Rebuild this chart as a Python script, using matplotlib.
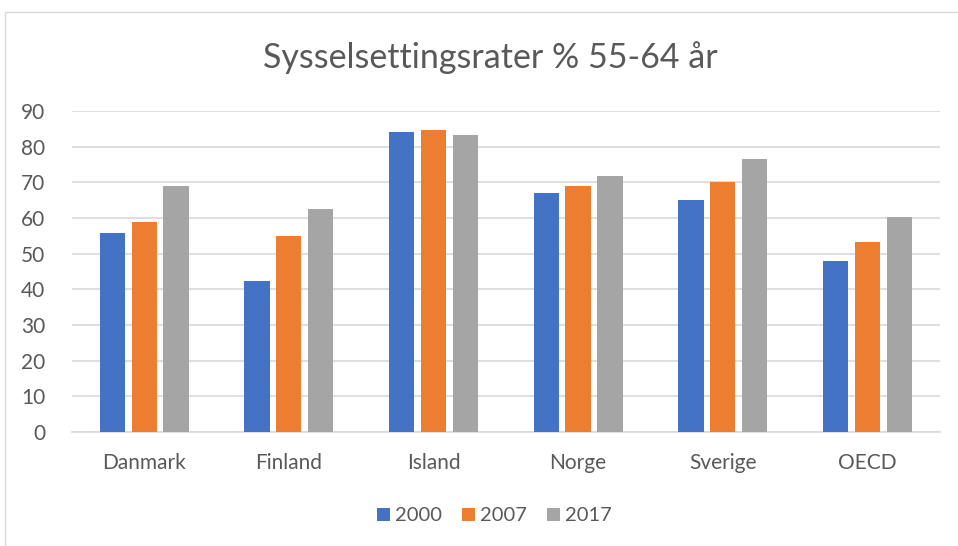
import matplotlib.pyplot as plt
import numpy as np
from matplotlib.patches import Rectangle

# === Data ===
countries = ['Danmark', 'Finland', 'Island', 'Norge', 'Sverige', 'OECD']
years = ['2000', '2007', '2017']
v2000 = [55.7, 42.3, 84.0, 66.9, 65.0, 47.8]
v2007 = [58.8, 55.0, 84.7, 68.8, 70.0, 53.3]
v2017 = [68.8, 62.4, 83.3, 71.8, 76.4, 60.3]
colors = ['#4472C4', '#ED7D31', '#A5A5A5']

plt.rcParams['font.family'] = ['Lato', 'DejaVu Sans']
txt = '#595959'

fig = plt.figure(figsize=(9.58, 5.46), dpi=100)
ax = fig.add_axes([0.075, 0.209, 0.906, 0.588])

x = np.arange(len(countries))
width = 0.175
step = 0.22
for i, (vals, yr) in enumerate(zip([v2000, v2007, v2017], years)):
    ax.bar(x + (i - 1) * step, vals, width, color=colors[i], label=yr, zorder=3)

ax.set_xlim(-0.5, len(countries) - 0.5)
ax.set_ylim(0, 90)
ax.set_yticks(range(0, 91, 10))
ax.set_xticks(x)
ax.set_xticklabels(countries)
ax.grid(axis='y', color='#d9d9d9', linewidth=1.2, zorder=0)
for s in ['top', 'right', 'left']:
    ax.spines[s].set_visible(False)
ax.spines['bottom'].set_color('#d9d9d9')
ax.spines['bottom'].set_linewidth(1.2)
ax.tick_params(length=0, labelsize=15, colors=txt)
ax.tick_params(axis='x', pad=15)
ax.tick_params(axis='y', pad=19)

fig.text(0.512, 0.895, 'Sysselsettingsrater % 55-64 år', ha='center', va='center',
         fontsize=24.5, color=txt)

leg = fig.legend(loc='center', bbox_to_anchor=(0.516, 0.055), ncol=3, frameon=False,
                 fontsize=14.5, handlelength=0.65, handleheight=0.65, columnspacing=1.0,
                 handletextpad=0.25)
for t in leg.get_texts():
    t.set_color(txt)

# outer chart border
fig.patches.append(Rectangle((5 / 958, -0.1), 1.1, 1 - 12 / 546 + 0.1,
                             transform=fig.transFigure, fill=False,
                             edgecolor='#d9d9d9', linewidth=1))

fig.savefig('out.png', dpi=100)
